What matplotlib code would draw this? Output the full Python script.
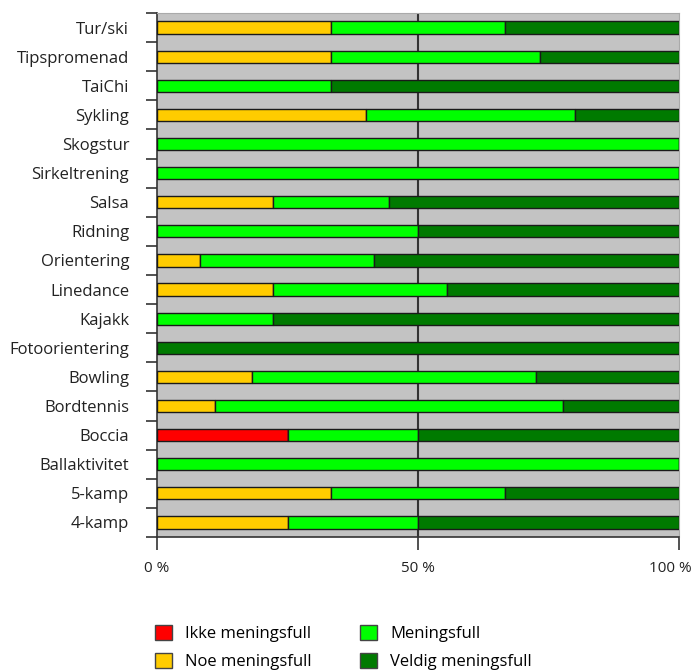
import numpy as np
import matplotlib.pyplot as plt
import matplotlib.transforms as mtransforms
from matplotlib.patches import Patch

plt.rcParams['font.family'] = ['Open Sans', 'DejaVu Sans']

# categories top to bottom
activities = ["Tur/ski", "Tipspromenad", "TaiChi", "Sykling", "Skogstur",
              "Sirkeltrening", "Salsa", "Ridning", "Orientering", "Linedance",
              "Kajakk", "Fotoorientering", "Bowling", "Bordtennis", "Boccia",
              "Ballaktivitet", "5-kamp", "4-kamp"]

# percent per answer category
ikke = [0, 0, 0, 0, 0, 0, 0, 0, 0, 0, 0, 0, 0, 0, 25, 0, 0, 0]
noe = [33.3, 33.3, 0, 40, 0, 0, 22.2, 0, 8.3, 22.2, 0, 0, 18.2, 11.1, 0, 0, 33.3, 25]
meningsfull = [33.3, 40, 33.3, 40, 100, 100, 22.2, 50, 33.3, 33.3, 22.2, 0, 54.5, 66.7, 25, 100, 33.4, 25]
veldig = [33.4, 26.7, 66.7, 20, 0, 0, 55.6, 50, 58.4, 44.5, 77.8, 100, 27.3, 22.2, 50, 0, 33.3, 50]

series = [ikke, noe, meningsfull, veldig]
labels = ["Ikke meningsfull", "Noe meningsfull", "Meningsfull", "Veldig meningsfull"]
colors = ["#ff0000", "#ffcc00", "#00ff00", "#007a00"]

fig = plt.figure(figsize=(6.97, 6.71), dpi=100)
ax = fig.add_axes([157 / 697, 1 - 537 / 671, 522 / 697, 524 / 671])
ax.set_facecolor("#c3c3c3")

y = np.arange(len(activities))
left = np.zeros(len(activities))
for vals, c in zip(series, colors):
    vals = np.array(vals)
    ax.barh(y, vals, left=left, height=0.42, color=c, edgecolor="#1a1a1a",
            linewidth=1.0, zorder=3)
    left += vals

ax.axvline(50, color="#333333", lw=1.5, zorder=2)

ax.set_xlim(0, 100)
ax.set_ylim(len(activities) - 0.5, -0.5)
ax.set_yticks(y)
ax.set_yticklabels(activities, fontsize=12, color="#222222")
ax.set_yticks(np.arange(-0.5, len(activities)), minor=True)
ax.tick_params(axis="y", which="major", length=0, pad=20)
ax.tick_params(axis="y", which="minor", length=8, width=1.2, color="#333333")

ax.set_xticks([0, 50, 100])
ax.set_xticklabels(["0 %", "50 %", "100 %"], fontsize=11, color="#222222")
ax.tick_params(axis="x", length=9, width=1.2, color="#333333", pad=8)

# keep the 100 % label inside the figure
last = ax.get_xticklabels()[-1]
last.set_transform(last.get_transform() +
                   mtransforms.ScaledTranslation(-6 / 72, 0, fig.dpi_scale_trans))

for s in ["top", "right"]:
    ax.spines[s].set_color("#aaaaaa")
for s in ["left", "bottom"]:
    ax.spines[s].set_color("#333333")
    ax.spines[s].set_linewidth(1.2)

handles = [Patch(facecolor=c, edgecolor="#444444", label=l) for c, l in zip(colors, labels)]
fig.legend(handles, labels, ncol=2,
           loc="upper left", bbox_to_anchor=(140 / 697, 1 - 610 / 671),
           frameon=False, fontsize=12, handlelength=1.0, handleheight=1.0,
           columnspacing=2.9, labelspacing=0.65, handletextpad=0.8)

fig.savefig("out.png", dpi=100)
